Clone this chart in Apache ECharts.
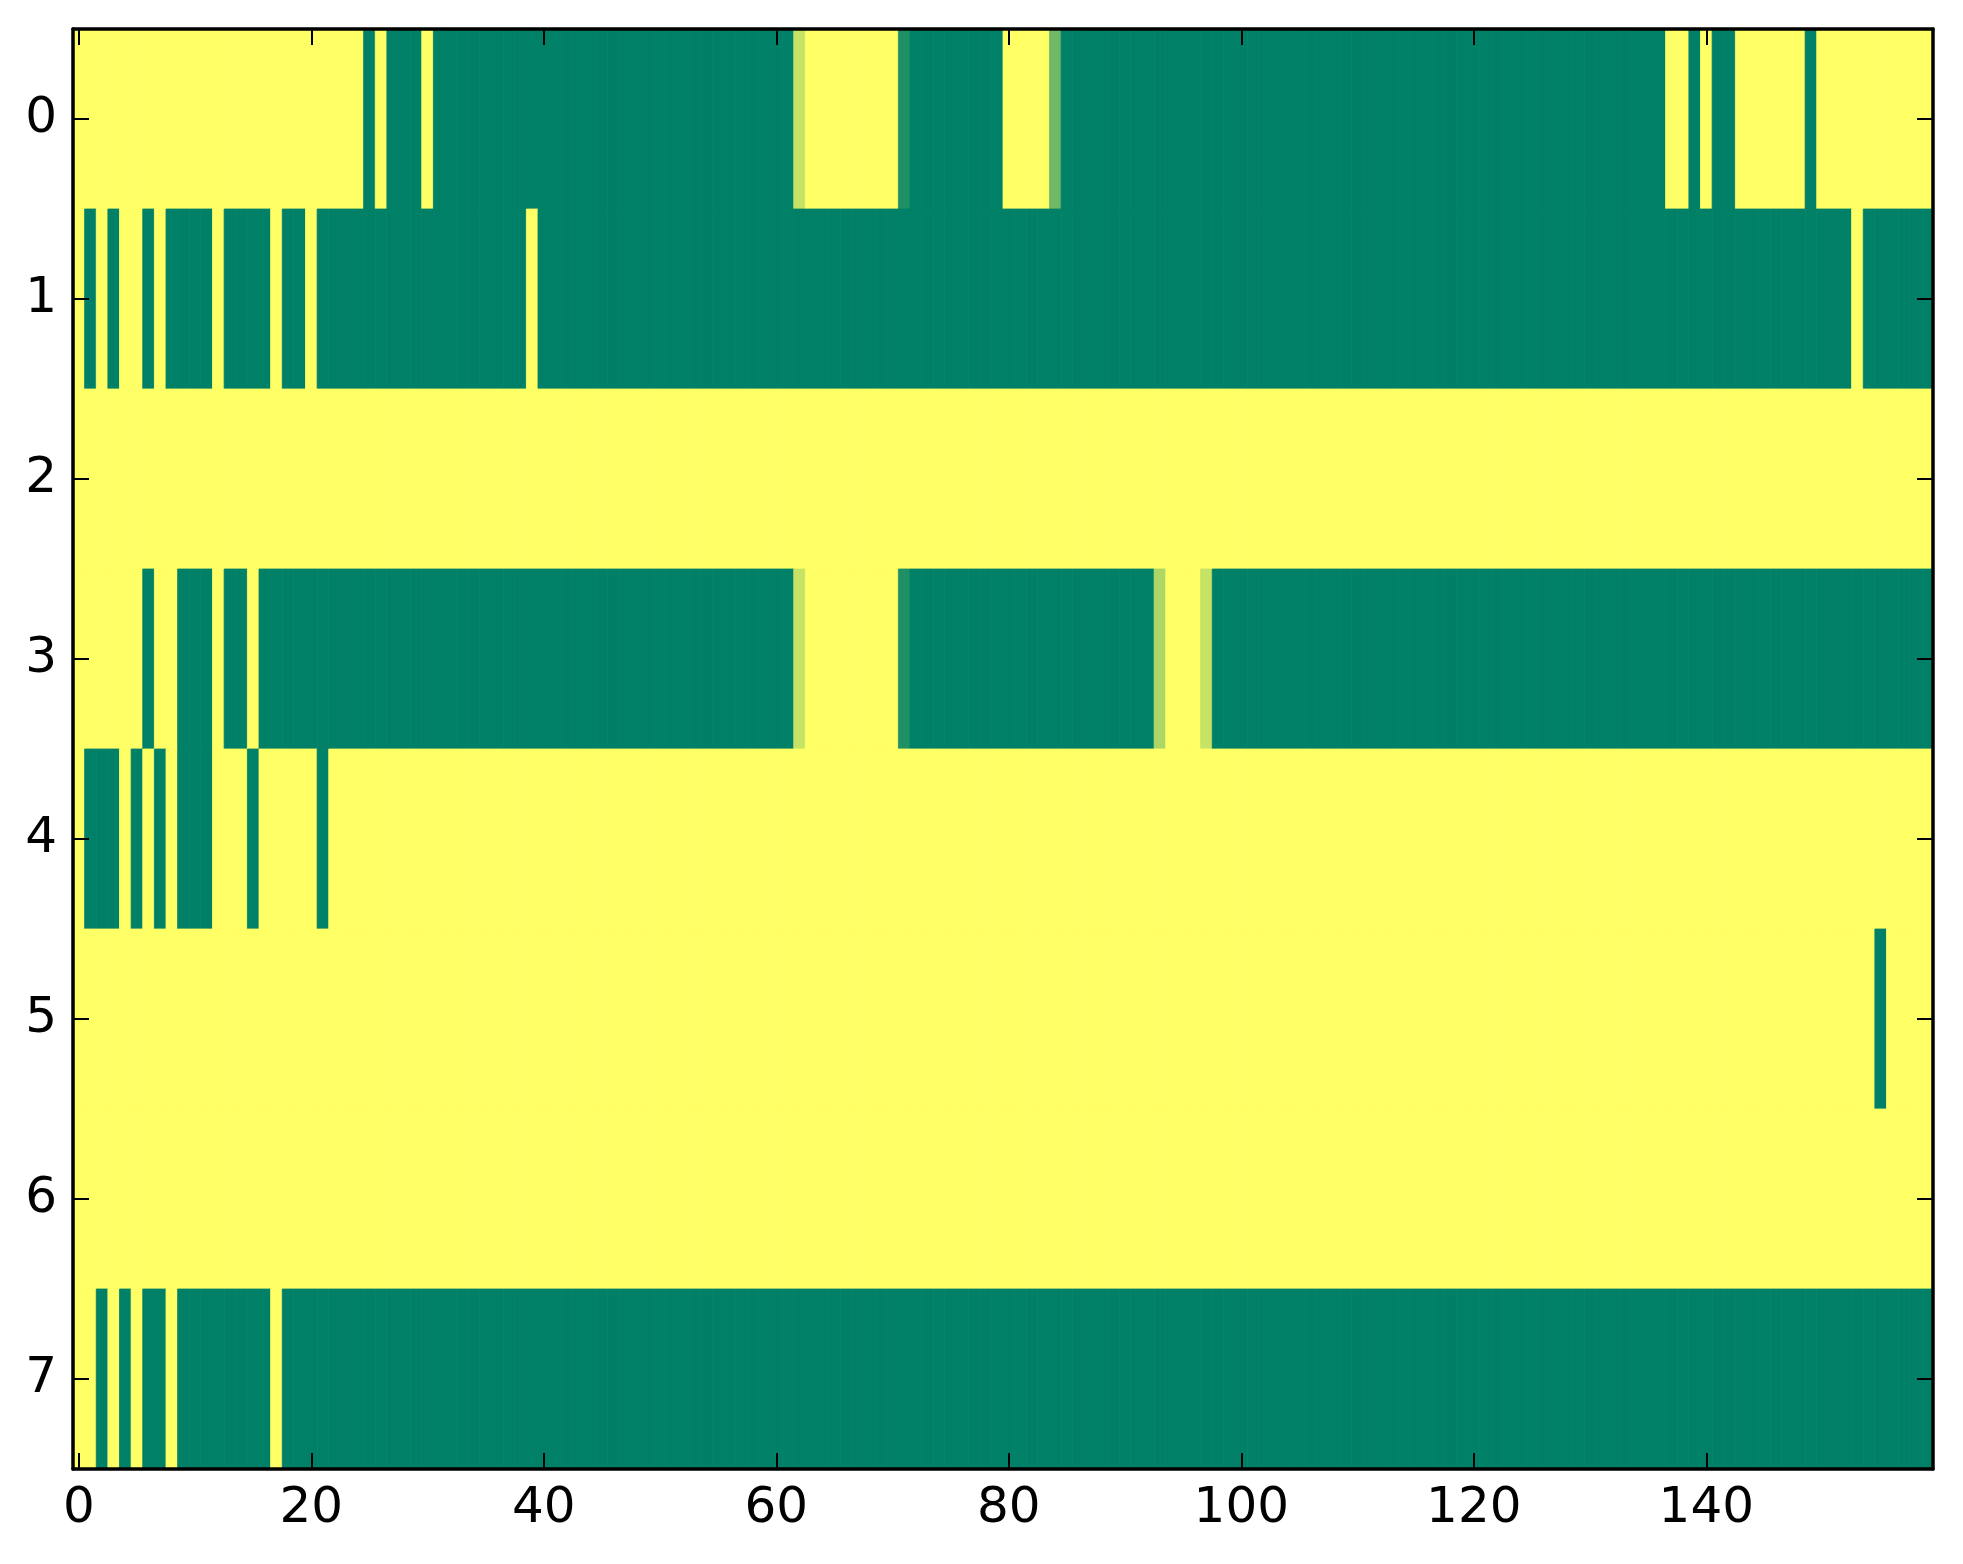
<!DOCTYPE html>
<html>
<head>
<meta charset="utf-8">
<script src="https://cdn.jsdelivr.net/npm/echarts@6/dist/echarts.min.js"></script>
<style>
  html, body { margin: 0; padding: 0; background: #ffffff; }
  #chart { width: 1963px; height: 1564px; }
</style>
</head>
<body>
<div id="chart"></div>
<script>
// Column indices 0..159 and row indices 0..7
const xCategories = Array.from({ length: 160 }, (_, i) => String(i));
const yCategories = ['0', '1', '2', '3', '4', '5', '6', '7'];
const xTickLabels = ['0', '20', '40', '60', '80', '100', '120', '140'];

// Cell values (0 = green, 1 = yellow), one array per row
const row0 = [
  1,1,1,1,1,1,1,1,1,1, 1,1,1,1,1,1,1,1,1,1,
  1,1,1,1,1,0,1,0,0,0, 1,0,0,0,0,0,0,0,0,0,
  0,0,0,0,0,0,0,0,0,0, 0,0,0,0,0,0,0,0,0,0,
  0,0,0.78,1,1,1,1,1,1,1, 1,0.12,0,0,0,0,0,0,0,0,
  1,1,1,1,0.44,0,0,0,0,0, 0,0,0,0,0,0,0,0,0,0,
  0,0,0,0,0,0,0,0,0,0, 0,0,0,0,0,0,0,0,0,0,
  0,0,0,0,0,0,0,0,0,0, 0,0,0,0,0,0,0,1,1,0,
  1,0,0,1,1,1,1,1,1,0, 1,1,1,1,1,1,1,1,1,1
];
const row1 = [
  1,0,1,0,1,1,0,1,0,0, 0,0,1,0,0,0,0,1,0,0,
  1,0,0,0,0,0,0,0,0,0, 0,0,0,0,0,0,0,0,0,1,
  0,0,0,0,0,0,0,0,0,0, 0,0,0,0,0,0,0,0,0,0,
  0,0,0,0,0,0,0,0,0,0, 0,0,0,0,0,0,0,0,0,0,
  0,0,0,0,0,0,0,0,0,0, 0,0,0,0,0,0,0,0,0,0,
  0,0,0,0,0,0,0,0,0,0, 0,0,0,0,0,0,0,0,0,0,
  0,0,0,0,0,0,0,0,0,0, 0,0,0,0,0,0,0,0,0,0,
  0,0,0,0,0,0,0,0,0,0, 0,0,0,1,0,0,0,0,0,0
];
const row2 = [
  1,1,1,1,1,1,1,1,1,1, 1,1,1,1,1,1,1,1,1,1,
  1,1,1,1,1,1,1,1,1,1, 1,1,1,1,1,1,1,1,1,1,
  1,1,1,1,1,1,1,1,1,1, 1,1,1,1,1,1,1,1,1,1,
  1,1,1,1,1,1,1,1,1,1, 1,1,1,1,1,1,1,1,1,1,
  1,1,1,1,1,1,1,1,1,1, 1,1,1,1,1,1,1,1,1,1,
  1,1,1,1,1,1,1,1,1,1, 1,1,1,1,1,1,1,1,1,1,
  1,1,1,1,1,1,1,1,1,1, 1,1,1,1,1,1,1,1,1,1,
  1,1,1,1,1,1,1,1,1,1, 1,1,1,1,1,1,1,1,1,1
];
const row3 = [
  1,1,1,1,1,1,0,1,1,0, 0,0,1,0,0,1,0,0,0,0,
  0,0,0,0,0,0,0,0,0,0, 0,0,0,0,0,0,0,0,0,0,
  0,0,0,0,0,0,0,0,0,0, 0,0,0,0,0,0,0,0,0,0,
  0,0,0.78,1,1,1,1,1,1,1, 1,0.12,0,0,0,0,0,0,0,0,
  0,0,0,0,0,0,0,0,0,0, 0,0,0,0.68,1,1,1,0.78,0,0,
  0,0,0,0,0,0,0,0,0,0, 0,0,0,0,0,0,0,0,0,0,
  0,0,0,0,0,0,0,0,0,0, 0,0,0,0,0,0,0,0,0,0,
  0,0,0,0,0,0,0,0,0,0, 0,0,0,0,0,0,0,0,0,0
];
const row4 = [
  1,0,0,0,1,0,1,0,1,0, 0,0,1,1,1,0,1,1,1,1,
  1,0,1,1,1,1,1,1,1,1, 1,1,1,1,1,1,1,1,1,1,
  1,1,1,1,1,1,1,1,1,1, 1,1,1,1,1,1,1,1,1,1,
  1,1,1,1,1,1,1,1,1,1, 1,1,1,1,1,1,1,1,1,1,
  1,1,1,1,1,1,1,1,1,1, 1,1,1,1,1,1,1,1,1,1,
  1,1,1,1,1,1,1,1,1,1, 1,1,1,1,1,1,1,1,1,1,
  1,1,1,1,1,1,1,1,1,1, 1,1,1,1,1,1,1,1,1,1,
  1,1,1,1,1,1,1,1,1,1, 1,1,1,1,1,1,1,1,1,1
];
const row5 = [
  1,1,1,1,1,1,1,1,1,1, 1,1,1,1,1,1,1,1,1,1,
  1,1,1,1,1,1,1,1,1,1, 1,1,1,1,1,1,1,1,1,1,
  1,1,1,1,1,1,1,1,1,1, 1,1,1,1,1,1,1,1,1,1,
  1,1,1,1,1,1,1,1,1,1, 1,1,1,1,1,1,1,1,1,1,
  1,1,1,1,1,1,1,1,1,1, 1,1,1,1,1,1,1,1,1,1,
  1,1,1,1,1,1,1,1,1,1, 1,1,1,1,1,1,1,1,1,1,
  1,1,1,1,1,1,1,1,1,1, 1,1,1,1,1,1,1,1,1,1,
  1,1,1,1,1,1,1,1,1,1, 1,1,1,1,1,0,1,1,1,1
];
const row6 = [
  1,1,1,1,1,1,1,1,1,1, 1,1,1,1,1,1,1,1,1,1,
  1,1,1,1,1,1,1,1,1,1, 1,1,1,1,1,1,1,1,1,1,
  1,1,1,1,1,1,1,1,1,1, 1,1,1,1,1,1,1,1,1,1,
  1,1,1,1,1,1,1,1,1,1, 1,1,1,1,1,1,1,1,1,1,
  1,1,1,1,1,1,1,1,1,1, 1,1,1,1,1,1,1,1,1,1,
  1,1,1,1,1,1,1,1,1,1, 1,1,1,1,1,1,1,1,1,1,
  1,1,1,1,1,1,1,1,1,1, 1,1,1,1,1,1,1,1,1,1,
  1,1,1,1,1,1,1,1,1,1, 1,1,1,1,1,1,1,1,1,1
];
const row7 = [
  1,1,0,1,0,1,0,0,1,0, 0,0,0,0,0,0,0,1,0,0,
  0,0,0,0,0,0,0,0,0,0, 0,0,0,0,0,0,0,0,0,0,
  0,0,0,0,0,0,0,0,0,0, 0,0,0,0,0,0,0,0,0,0,
  0,0,0,0,0,0,0,0,0,0, 0,0,0,0,0,0,0,0,0,0,
  0,0,0,0,0,0,0,0,0,0, 0,0,0,0,0,0,0,0,0,0,
  0,0,0,0,0,0,0,0,0,0, 0,0,0,0,0,0,0,0,0,0,
  0,0,0,0,0,0,0,0,0,0, 0,0,0,0,0,0,0,0,0,0,
  0,0,0,0,0,0,0,0,0,0, 0,0,0,0,0,0,0,0,0,0
];

const rows = [row0, row1, row2, row3, row4, row5, row6, row7];

// Build cell triples [x, y, value]
const cells = [];
rows.forEach((r, y) => r.forEach((v, x) => cells.push([x, y, v])));

const chart = echarts.init(document.getElementById('chart'), null, { renderer: 'canvas' });

const FONT = 'DejaVu Sans';
const showTick = (idx) => xTickLabels.indexOf(String(idx)) !== -1;
const axisLineStyle = { color: '#000', width: 3.5 };
const tickStyle = { color: '#000', width: 2 };

const xBase = {
  type: 'category',
  data: xCategories,
  boundaryGap: true,
  z: 10,
  axisLine: { show: true, onZero: false, lineStyle: axisLineStyle },
  axisTick: { show: true, inside: true, length: 16, alignWithLabel: true, interval: (i) => showTick(i), lineStyle: tickStyle },
  splitLine: { show: false },
  splitArea: { show: false }
};
const yBase = {
  type: 'category',
  data: yCategories,
  inverse: true,
  boundaryGap: true,
  z: 10,
  axisLine: { show: true, onZero: false, lineStyle: axisLineStyle },
  axisTick: { show: true, inside: true, length: 16, alignWithLabel: true, interval: 0, lineStyle: tickStyle },
  splitLine: { show: false },
  splitArea: { show: false }
};

chart.setOption({
  animation: false,
  backgroundColor: '#ffffff',
  grid: { left: 73, right: 30, top: 29, bottom: 95, containLabel: false },
  xAxis: [
    Object.assign({}, xBase, {
      position: 'bottom',
      axisLabel: { show: true, interval: (i) => showTick(i), margin: 15, fontFamily: FONT, fontSize: 50, color: '#000' }
    }),
    Object.assign({}, xBase, { position: 'top', axisLabel: { show: false } })
  ],
  yAxis: [
    Object.assign({}, yBase, {
      position: 'left',
      axisLabel: { show: true, margin: 16, fontFamily: FONT, fontSize: 50, color: '#000' }
    }),
    Object.assign({}, yBase, { position: 'right', axisLabel: { show: false } })
  ],
  visualMap: {
    show: false,
    type: 'continuous',
    min: 0,
    max: 1,
    dimension: 2,
    seriesIndex: 0,
    inRange: { color: ['#008066', '#ffff66'] }
  },
  series: [{
    type: 'custom',
    xAxisIndex: 0,
    yAxisIndex: 0,
    z: 1,
    clip: true,
    encode: { x: 0, y: 1 },
    data: cells,
    renderItem: function (params, api) {
      const c = api.coord([api.value(0), api.value(1)]);
      const s = api.size([1, 1]);
      const color = api.visual('color');
      return {
        type: 'rect',
        shape: { x: c[0] - s[0] / 2, y: c[1] - s[1] / 2, width: s[0], height: s[1] },
        style: { fill: color, stroke: color, lineWidth: 0.8 }
      };
    }
  }]
});
</script>
</body>
</html>
